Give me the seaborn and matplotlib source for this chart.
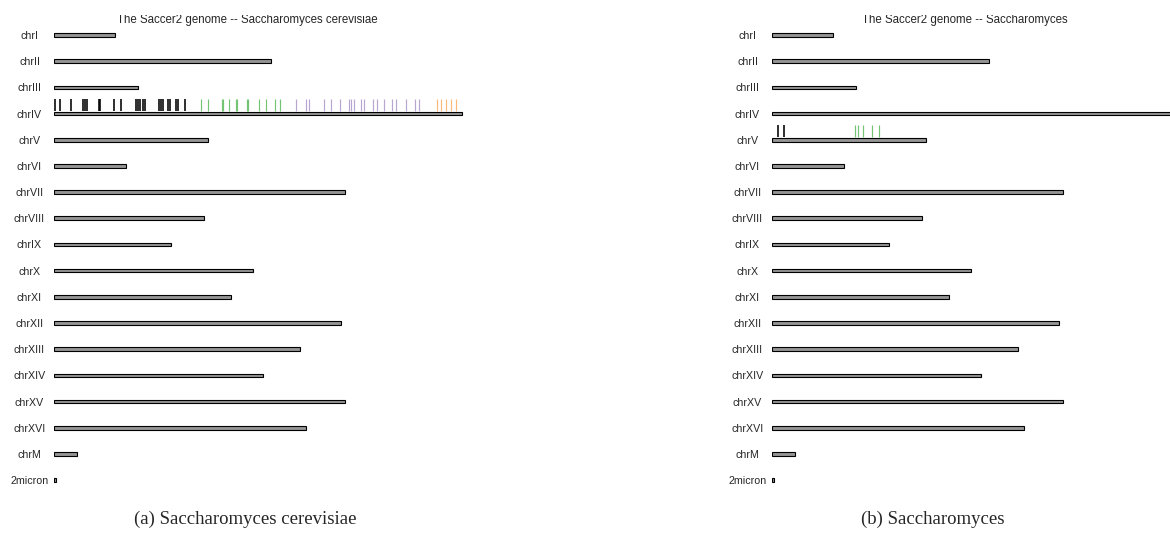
import matplotlib
matplotlib.use("Agg")
import matplotlib.pyplot as plt
import seaborn as sns
import pandas as pd
from matplotlib.transforms import Bbox

# sacCer2 chromosome names and lengths (bp)
chromosomes = ["chrI", "chrII", "chrIII", "chrIV", "chrV", "chrVI", "chrVII",
               "chrVIII", "chrIX", "chrX", "chrXI", "chrXII", "chrXIII",
               "chrXIV", "chrXV", "chrXVI", "chrM", "2micron"]
lengths_bp = [230208, 813178, 316617, 1531919, 576869, 270148, 1090947,
              562643, 439885, 745742, 666454, 1078175, 924429, 784333,
              1091289, 948062, 85779, 6318]

# Feature positions (kb) — S. cerevisiae, all on chrIV, in four groups
cerevisiae_chrom = "chrIV"
cerevisiae_group1 = [4, 23, 64, 109, 116, 124, 169, 173, 225, 252, 308, 315,
                     323, 334, 342, 394, 402, 409, 428, 436, 458, 466, 492]
cerevisiae_group2 = [552, 578, 631, 635, 657, 683, 687, 725, 728, 770, 796,
                     830, 849]
cerevisiae_group3 = [909, 946, 958, 1014, 1040, 1074, 1108, 1115, 1127, 1153,
                     1164, 1198, 1213, 1239, 1269, 1284, 1322, 1356, 1371]
cerevisiae_group4 = [1438, 1453, 1472, 1491, 1510]

# Feature positions (kb) — Saccharomyces, on chrV
sacch_chrom = "chrV"
sacch_group1 = [23, 45]
sacch_group2 = [312, 323, 342, 376, 402]

group_colors = ["black", "#74C474", "#B7A6D0", "#FDB97A"]
group_widths = [1.15, 0.85, 0.85, 0.85]

titles = ["The Saccer2 genome -- Saccharomyces cerevisiae",
          "The Saccer2 genome -- Saccharomyces"]
captions = ["(a) Saccharomyces cerevisiae", "(b) Saccharomyces"]

sns.set_style("white")
plt.rcParams["font.family"] = ["Liberation Sans", "DejaVu Sans"]

W, H = 1170, 541
fig = plt.figure(figsize=(W / 100, H / 100), dpi=100)

bp_per_px = 1531919 / 408.0
row_px = 26.18
first_row_y = 35.0
n = len(chromosomes)

df = pd.DataFrame({"chrom": chromosomes, "length": lengths_bp})


def ideogram(left_px, chrom, groups, title, caption, caption_x):
    width_px = 440
    top_px = first_row_y - row_px * 0.5
    height_px = row_px * n
    ax = fig.add_axes([left_px / W, 1 - (top_px + height_px) / H,
                       width_px / W, height_px / H])
    sns.barplot(data=df, x="length", y="chrom", order=chromosomes,
                orient="h", color="#959595", saturation=1, width=0.14,
                edgecolor="black", linewidth=0.8, ax=ax)
    ax.set_xlim(0, width_px * bp_per_px)
    ax.set_ylim(n - 0.5, -0.5)
    row = chromosomes.index(chrom)
    for g, positions in enumerate(groups):
        xs = [p * 1000 for p in positions]
        ax.vlines(xs, row - 0.09, row - 0.55, colors=group_colors[g],
                  linewidth=group_widths[g])
    for s in ax.spines.values():
        s.set_visible(False)
    ax.set_xticks([])
    ax.set_xlabel("")
    ax.set_ylabel("")
    ax.tick_params(axis="y", length=0, pad=24.5 * 0.72, labelsize=7.7)
    for lab in ax.get_yticklabels():
        lab.set_horizontalalignment("center")
    t = fig.text((left_px + 193) / W, 1 - 22.5 / H, title, ha="center",
                 va="baseline", fontsize=8.3)
    t.set_clip_on(True)
    t.set_clip_box(Bbox.from_extents(0, 0, W, H - 15.0))
    fig.text(caption_x / W, 1 - 519 / H, caption, ha="center", va="center",
             fontsize=13.5, family="Liberation Serif")
    return ax


ideogram(54, cerevisiae_chrom,
         [cerevisiae_group1, cerevisiae_group2, cerevisiae_group3,
          cerevisiae_group4],
         titles[0], captions[0], 245)
ideogram(772, sacch_chrom, [sacch_group1, sacch_group2],
         titles[1], captions[1], 933)

fig.savefig("out.png", dpi=100)
